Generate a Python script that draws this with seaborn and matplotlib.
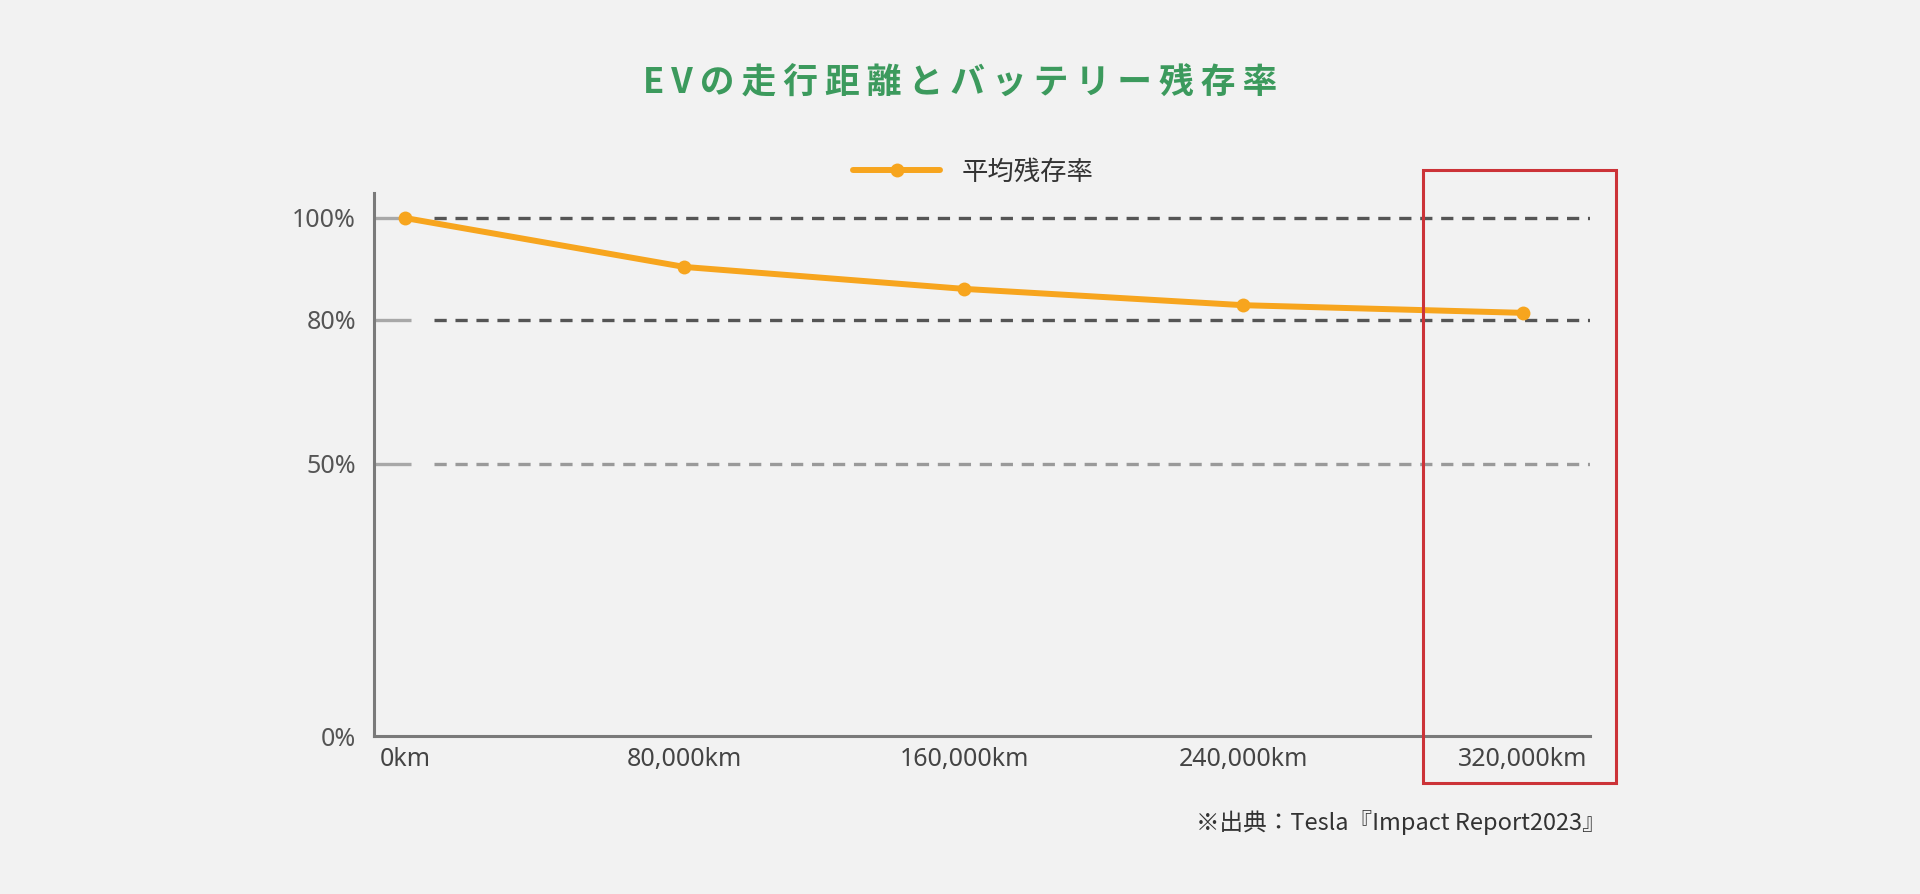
import numpy as np
import pandas as pd
import matplotlib
matplotlib.use("Agg")
import matplotlib.pyplot as plt
import seaborn as sns
from matplotlib.patches import Rectangle
from matplotlib.scale import FuncScale

# ---- data ----
distance_km = [0, 80000, 160000, 240000, 320000]
x_labels = ["0km", "80,000km", "160,000km", "240,000km", "320,000km"]
retention = [100.0, 90.4, 86.1, 82.9, 81.4]
y_ticks = [0, 50, 80, 100]
y_labels = ["0%", "50%", "80%", "100%"]
series_name = "平均残存率"
title = "EVの走行距離とバッテリー残存率"
source = "※出典：Tesla『Impact Report2023』"

df = pd.DataFrame({"distance": distance_km, "retention": retention})

sns.set_theme(style="white")
plt.rcParams["font.family"] = ["Noto Sans CJK JP", "DejaVu Sans"]
plt.rcParams["lines.scale_dashes"] = False

BG = "#F2F2F2"
W, H = 1920, 894
fig = plt.figure(figsize=(W / 100, H / 100), dpi=100, facecolor=BG)

left, right, bottom, top = 374, 1590, 736, 193
ax = fig.add_axes([left / W, 1 - bottom / H, (right - left) / W, (bottom - top) / H])
ax.set_facecolor(BG)

# piecewise-linear value axis as in the reference
vals = [0, 50, 80, 100, 140]
pos = [0, 272, 416, 518, 722]
ax.set_yscale(FuncScale(ax.yaxis, (lambda v: np.interp(v, vals, pos),
                                   lambda p: np.interp(p, pos, vals))))
ax.set_ylim(0, 104.9)
ax.set_xlim(-8870, 339180)

# gridlines
x_grid_start = -8870 + (434 - left) / 0.0034937
for yv, col in [(100, "#555555"), (80, "#555555"), (50, "#9a9a9a")]:
    ax.hlines(yv, x_grid_start, 339180, colors=col, linewidth=2.4,
              linestyles=(0, (8.8, 6.3)), zorder=1)

# inward tick segments (solid grey) at each gridline value
ytrans = ax.get_yaxis_transform()
tick_len = 37 / (right - left)
for yv in y_ticks[1:]:
    ax.plot([0, tick_len], [yv, yv], transform=ytrans, color="#a8a8a8",
            linewidth=2.4, solid_capstyle="butt", zorder=2, clip_on=False)

orange = "#F7A51E"
sns.lineplot(data=df, x="distance", y="retention", ax=ax, color=orange,
             linewidth=4.3, marker="o", markersize=10, markeredgewidth=0,
             label=series_name, zorder=3)

ax.set_xlabel("")
ax.set_ylabel("")
ax.set_xticks(distance_km)
ax.set_xticklabels(x_labels)
ax.set_yticks(y_ticks)
ax.set_yticklabels(y_labels)

for s in ["top", "right"]:
    ax.spines[s].set_visible(False)
for s in ["left", "bottom"]:
    ax.spines[s].set_color("#7a7a7a")
    ax.spines[s].set_linewidth(2.2)
    ax.spines[s].set_zorder(4)

ax.tick_params(axis="y", left=False, length=0, pad=13, labelsize=18,
               labelcolor="#555555")
ax.tick_params(axis="x", bottom=False, length=0, pad=8, labelsize=18,
               labelcolor="#444444")
for lab in ax.get_xticklabels() + ax.get_yticklabels():
    lab.set_family(["Noto Sans", "DejaVu Sans"])

ax.get_legend().remove()
handles, labels = ax.get_legend_handles_labels()
fig.legend(handles, labels, loc="center", bbox_to_anchor=(973 / W, 1 - 172 / H),
           frameon=False, fontsize=19, handlelength=3.3, handletextpad=0.8,
           labelcolor="#333333")

fig.text(0.5, 1 - 83 / H, "\u2009".join(title), ha="center", va="center",
         fontsize=25, fontweight="bold", color="#3C9A5D")

fig.text(1606 / W, 1 - 823 / H, source, ha="right", va="center",
         fontsize=17, color="#333333")

fig.patches.append(Rectangle((1423 / W, 1 - 783 / H), (1616 - 1423) / W, (783 - 170) / H,
                             transform=fig.transFigure, fill=False,
                             edgecolor="#CC3338", linewidth=2.2, zorder=10))

fig.savefig("out.png", dpi=100, facecolor=BG)
